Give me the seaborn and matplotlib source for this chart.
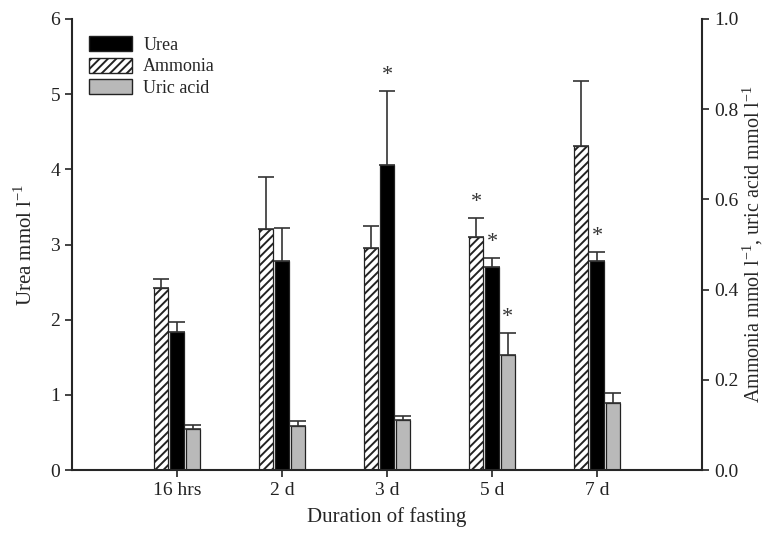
import numpy as np
import pandas as pd
import seaborn as sns
import matplotlib.pyplot as plt
from matplotlib.patches import Patch

# values
durations = ['16 hrs', '2 d', '3 d', '5 d', '7 d']
urea = [1.84, 2.78, 4.06, 2.70, 2.78]            # left axis (mmol/l)
urea_err = [0.13, 0.44, 0.98, 0.12, 0.12]
ammonia = [0.404, 0.535, 0.492, 0.517, 0.718]    # right axis (mmol/l)
ammonia_err = [0.019, 0.115, 0.050, 0.042, 0.145]
uric = [0.091, 0.098, 0.111, 0.255, 0.149]       # right axis (mmol/l)
uric_err = [0.009, 0.010, 0.009, 0.049, 0.022]
urea_sig = [False, False, True, True, True]
ammonia_sig = [False, False, False, True, False]
uric_sig = [False, False, False, True, False]

series_order = ['Ammonia', 'Urea', 'Uric acid']
RIGHT = 6.0  # left axis spans 0-6, right axis 0-1

rows = []
for i, d in enumerate(durations):
    rows.append((d, 'Ammonia', ammonia[i], ammonia_err[i], ammonia_sig[i], RIGHT))
    rows.append((d, 'Urea', urea[i], urea_err[i], urea_sig[i], 1.0))
    rows.append((d, 'Uric acid', uric[i], uric_err[i], uric_sig[i], RIGHT))
df = pd.DataFrame(rows, columns=['duration', 'series', 'value', 'err', 'sig', 'k'])
df['plot_value'] = df['value'] * df['k']
df['plot_err'] = df['err'] * df['k']

sns.set_style('ticks')
plt.rcParams['font.family'] = ['Liberation Serif', 'DejaVu Serif']
plt.rcParams['mathtext.fontset'] = 'custom'
plt.rcParams['mathtext.rm'] = 'Liberation Serif'
plt.rcParams['hatch.linewidth'] = 1.4

fig = plt.figure(figsize=(7.65, 5.38), dpi=100)
ax = fig.add_axes([0.094, 0.126, 0.824, 0.839])

colors = {'Ammonia': 'white', 'Urea': 'black', 'Uric acid': '#b9b9b9'}
hatches = {'Ammonia': '////', 'Urea': '', 'Uric acid': ''}

sns.barplot(data=df, x='duration', y='plot_value', hue='series',
            hue_order=series_order, order=durations, palette=colors,
            width=0.45, gap=0.11, errorbar=None, edgecolor='#222222',
            linewidth=0.9, legend=False, ax=ax)

# one-sided error bars, hatches and asterisks from the bar geometry
for name, cont in zip(series_order, ax.containers):
    part = df[df['series'] == name].set_index('duration').loc[durations]
    for rect, (_, r) in zip(cont.patches, part.iterrows()):
        rect.set_hatch(hatches[name])
        xc = rect.get_x() + rect.get_width() / 2
        top = rect.get_height()
        ax.errorbar(xc, top, yerr=[[0], [r['plot_err']]], fmt='none',
                    ecolor='#333333', elinewidth=1.2, capsize=6, capthick=1.2)
        if r['sig']:
            ax.text(xc, top + r['plot_err'] + 0.08, '*', ha='center',
                    va='bottom', fontsize=16, color='#333333')

ax.set_xlim(-1, 5)
ax.set_ylim(0, 6)
ax.set_yticks(range(0, 7))

ax2 = ax.secondary_yaxis('right', functions=(lambda y: y / RIGHT, lambda y: y * RIGHT))
ax2.set_yticks(np.arange(0, 1.01, 0.2))
ax2.set_yticklabels([f'{t:.1f}' for t in np.arange(0, 1.01, 0.2)])

ax.spines['top'].set_visible(False)
ax.spines['right'].set_visible(False)
for sp in ('left', 'bottom'):
    ax.spines[sp].set_linewidth(1.5)
ax2.spines['right'].set_linewidth(1.5)
for a in (ax, ax2):
    a.tick_params(labelsize=14, width=1.2, length=5, colors='#222222')

ax.set_xlabel('Duration of fasting', fontsize=15, labelpad=6)
ax.set_ylabel(r'Urea mmol l$^{\mathregular{-1}}$', fontsize=15, labelpad=10)
ax2.set_ylabel(r'Ammonia mmol l$^{\mathregular{-1}}$, uric acid mmol l$^{\mathregular{-1}}$',
               fontsize=14.5, labelpad=1)

handles = [Patch(facecolor=colors[s], edgecolor='#222222', hatch=hatches[s], label=s)
           for s in ['Urea', 'Ammonia', 'Uric acid']]
ax.legend(handles=handles, loc='upper left', bbox_to_anchor=(0.01, 0.985),
          frameon=False, fontsize=13, handlelength=2.4, handleheight=0.9,
          handletextpad=0.6, labelspacing=0.2, borderaxespad=0.2)

fig.savefig('out.png', dpi=100)
